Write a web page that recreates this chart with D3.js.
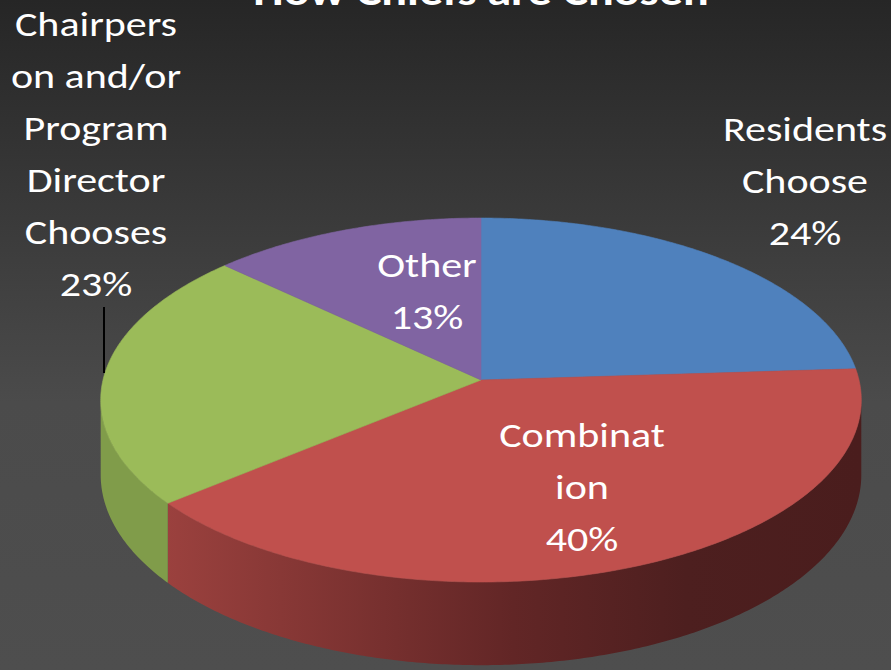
<!DOCTYPE html>
<html>
<head>
<meta charset="utf-8">
<script src="https://cdn.jsdelivr.net/npm/d3@7/dist/d3.min.js"></script>
<style>
  html, body { margin: 0; padding: 0; background: #4d4d4d; }
  svg { display: block; }
  text { font-family: Carlito, Calibri, Lato, "Open Sans", sans-serif; fill: #ffffff; }
</style>
</head>
<body>
<svg id="chart" width="891" height="670"></svg>
<script>
// ---- data ----
const title = "How Chiefs are Chosen";
const categories = ["Residents Choose", "Combination", "Chairperson and/or Program Director Chooses", "Other"];
const values = [24, 40, 23, 13];
const labelLines = [
  ["Residents", "Choose"],
  ["Combinat", "ion"],
  ["Chairpers", "on and/or", "Program", "Director", "Chooses"],
  ["Other"]
];
const topColors = ["#4f81bd", "#c0504d", "#9bbb59", "#8064a2"];
const sideColors = ["#3c6190", "#9a403d", "#809c4a", "#62507e"];

// ---- layout ----
const W = 891, H = 670;
const CX = 481, CY = 380;      // projected pie centre
const RX = 378, RY = 179.8;     // radii of the tilted disk
const PERSP = 0.11;             // perspective strength
const DEPTH = 74;               // thickness of the pie
const TEXT_STRETCH = 1.2;       // wide lettering of the slide

const svg = d3.select("#chart");
const defs = svg.append("defs");

const bg = defs.append("linearGradient").attr("id", "bg")
  .attr("x1", 0).attr("y1", 0).attr("x2", 0).attr("y2", 1);
bg.append("stop").attr("offset", "0%").attr("stop-color", "#262626");
bg.append("stop").attr("offset", "60%").attr("stop-color", "#4b4b4b");
bg.append("stop").attr("offset", "100%").attr("stop-color", "#4e4e4e");
svg.append("rect").attr("width", W).attr("height", H).attr("fill", "url(#bg)");

// shading of the red wall: lit on the left, dark toward the right
const redSide = defs.append("linearGradient").attr("id", "side1")
  .attr("gradientUnits", "userSpaceOnUse")
  .attr("x1", 165).attr("y1", 0).attr("x2", 860).attr("y2", 0);
redSide.append("stop").attr("offset", "0%").attr("stop-color", "#9b413e");
redSide.append("stop").attr("offset", "50%").attr("stop-color", "#622626");
redSide.append("stop").attr("offset", "75%").attr("stop-color", "#4d1f1f");
redSide.append("stop").attr("offset", "100%").attr("stop-color", "#4a1d1d");

// project a point of the disk (angle clockwise from the back, radius 0..1, depth 0..1)
function project(theta, r, t) {
  const u = r * Math.sin(theta), v = -r * Math.cos(theta);
  const w = 1 - PERSP * v;
  return [CX + RX * u / w, CY + (RY * v + DEPTH * t) / w];
}
function rim(a0, a1, t) {
  const n = Math.max(2, Math.ceil(Math.abs(a1 - a0) / 0.01));
  return d3.range(n + 1).map(i => project(a0 + (a1 - a0) * i / n, 1, t));
}

const pie = d3.pie().sort(null).value(d => d);
const arcs = pie(values);

// only the front part of the outer wall faces the viewer
const frontA = Math.acos(-PERSP), frontB = 2 * Math.PI - Math.acos(-PERSP);
const line = d3.line();

const walls = svg.append("g");
arcs.forEach((d, i) => {
  const a0 = Math.max(d.startAngle, frontA), a1 = Math.min(d.endAngle, frontB);
  if (a1 <= a0) return;
  const pts = rim(a0, a1, 0).concat(rim(a1, a0, 1));
  walls.append("path")
    .attr("d", line(pts) + "Z")
    .attr("fill", i === 1 ? "url(#side1)" : sideColors[i]);
});

const tops = svg.append("g");
arcs.forEach((d, i) => {
  const pts = [project(0, 0, 0)].concat(rim(d.startAngle, d.endAngle, 0));
  tops.append("path")
    .attr("d", line(pts) + "Z")
    .attr("fill", topColors[i])
    .attr("stroke", topColors[i]).attr("stroke-width", 0.6);
});

// title (sits partly above the top edge)
svg.append("text")
  .attr("transform", `translate(481,5) scale(${TEXT_STRETCH},1)`)
  .attr("text-anchor", "middle")
  .attr("font-size", 40).attr("font-weight", "bold")
  .text(title);

// data labels
const labelPos = [
  { x: 805, y: 141 },
  { x: 582, y: 447 },
  { x: 96,  y: 36 },
  { x: 427, y: 277 }
];
const lineStep = 52;
arcs.forEach((d, i) => {
  const lines = labelLines[i].concat([d3.format(".0f")(d.data) + "%"]);
  const t = svg.append("text")
    .attr("transform", `translate(${labelPos[i].x},${labelPos[i].y}) scale(${TEXT_STRETCH},1)`)
    .attr("text-anchor", "middle")
    .attr("font-size", 35);
  lines.forEach((s, j) => {
    t.append("tspan").attr("x", 0).attr("y", j * lineStep).text(s);
  });
});

// leader line for the outside label
svg.append("line")
  .attr("x1", 104).attr("x2", 104).attr("y1", 307).attr("y2", 373)
  .attr("stroke", "#000").attr("stroke-width", 2);
</script>
</body>
</html>
